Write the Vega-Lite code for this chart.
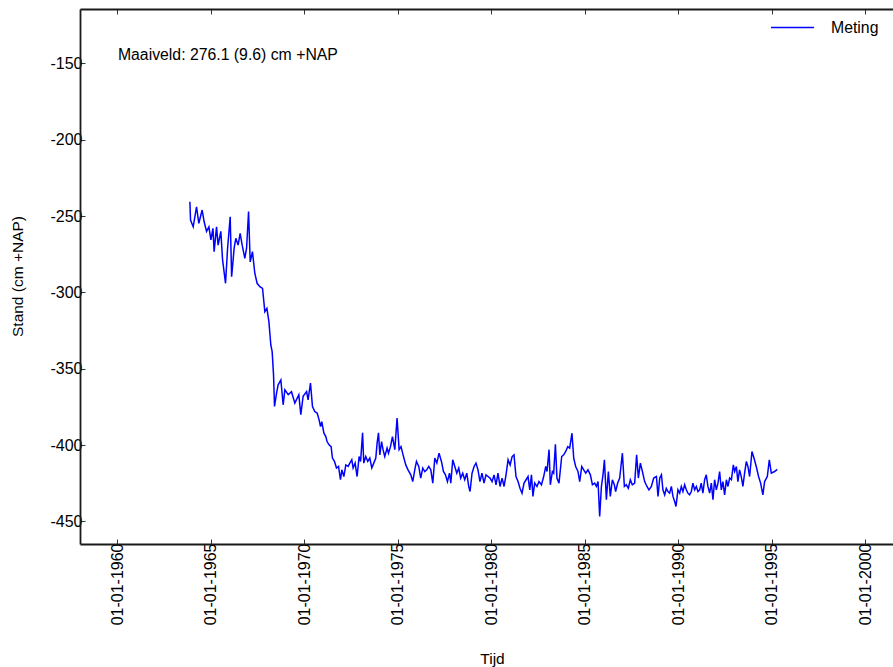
{
  "$schema": "https://vega.github.io/schema/vega-lite/v6.json",
  "width": 813,
  "height": 535,
  "autosize": {"type": "none"},
  "padding": {"left": 80, "top": 9, "right": 0, "bottom": 123},
  "background": "white",
  "config": {
    "view": {"stroke": null},
    "font": "Liberation Sans",
    "axis": {
      "grid": false,
      "domainColor": "#1a1a1a",
      "domainWidth": 1.8,
      "tickColor": "#333333",
      "tickWidth": 1,
      "labelColor": "#000000",
      "labelFont": "Liberation Sans",
      "labelFontSize": 16,
      "titleFont": "Liberation Sans",
      "titleFontSize": 15.5,
      "titleFontWeight": "normal",
      "titleColor": "#000000"
    }
  },
  "resolve": {"axis": {"x": "independent", "y": "independent"}},
  "layer": [
    {
      "data": {
        "values": [
          {"tijd": "1963-11-18", "stand": -240.6},
          {"tijd": "1963-12-01", "stand": -252.6},
          {"tijd": "1964-01-22", "stand": -257.0},
          {"tijd": "1964-03-27", "stand": -243.9},
          {"tijd": "1964-05-11", "stand": -254.7},
          {"tijd": "1964-07-15", "stand": -246.0},
          {"tijd": "1964-08-23", "stand": -253.7},
          {"tijd": "1964-10-09", "stand": -260.0},
          {"tijd": "1964-11-24", "stand": -257.0},
          {"tijd": "1965-01-02", "stand": -265.6},
          {"tijd": "1965-02-11", "stand": -258.0},
          {"tijd": "1965-03-06", "stand": -273.3},
          {"tijd": "1965-04-22", "stand": -257.0},
          {"tijd": "1965-05-23", "stand": -269.0},
          {"tijd": "1965-07-15", "stand": -260.0},
          {"tijd": "1965-08-18", "stand": -278.7},
          {"tijd": "1965-10-15", "stand": -294.0},
          {"tijd": "1965-11-24", "stand": -271.0},
          {"tijd": "1966-01-14", "stand": -250.4},
          {"tijd": "1966-02-11", "stand": -289.7},
          {"tijd": "1966-04-01", "stand": -271.0},
          {"tijd": "1966-05-04", "stand": -264.5},
          {"tijd": "1966-06-18", "stand": -269.0},
          {"tijd": "1966-07-27", "stand": -261.3},
          {"tijd": "1966-09-05", "stand": -269.0},
          {"tijd": "1966-10-27", "stand": -277.6},
          {"tijd": "1966-11-30", "stand": -271.0},
          {"tijd": "1967-01-08", "stand": -247.0},
          {"tijd": "1967-02-09", "stand": -280.0},
          {"tijd": "1967-03-25", "stand": -273.3},
          {"tijd": "1967-05-10", "stand": -287.4},
          {"tijd": "1967-06-24", "stand": -294.0},
          {"tijd": "1967-08-16", "stand": -296.2},
          {"tijd": "1967-10-08", "stand": -297.3},
          {"tijd": "1967-11-22", "stand": -312.6},
          {"tijd": "1968-01-01", "stand": -310.4},
          {"tijd": "1968-02-09", "stand": -319.0},
          {"tijd": "1968-03-18", "stand": -334.4},
          {"tijd": "1968-04-13", "stand": -338.8},
          {"tijd": "1968-05-10", "stand": -354.0},
          {"tijd": "1968-05-29", "stand": -374.7},
          {"tijd": "1968-07-08", "stand": -366.0},
          {"tijd": "1968-08-08", "stand": -360.5},
          {"tijd": "1968-09-30", "stand": -357.3},
          {"tijd": "1968-11-14", "stand": -373.6},
          {"tijd": "1968-12-17", "stand": -363.8},
          {"tijd": "1969-02-21", "stand": -367.0},
          {"tijd": "1969-04-26", "stand": -365.0},
          {"tijd": "1969-06-30", "stand": -372.5},
          {"tijd": "1969-09-16", "stand": -367.0},
          {"tijd": "1969-10-25", "stand": -380.0},
          {"tijd": "1969-12-09", "stand": -368.0},
          {"tijd": "1970-02-15", "stand": -365.0},
          {"tijd": "1970-03-16", "stand": -370.4},
          {"tijd": "1970-05-02", "stand": -359.4},
          {"tijd": "1970-06-10", "stand": -374.7},
          {"tijd": "1970-07-25", "stand": -378.0},
          {"tijd": "1970-09-09", "stand": -379.0},
          {"tijd": "1970-10-17", "stand": -383.5},
          {"tijd": "1970-11-14", "stand": -387.8},
          {"tijd": "1970-12-09", "stand": -384.6},
          {"tijd": "1971-01-18", "stand": -392.0},
          {"tijd": "1971-02-26", "stand": -394.4},
          {"tijd": "1971-03-22", "stand": -397.7},
          {"tijd": "1971-04-30", "stand": -399.8},
          {"tijd": "1971-06-09", "stand": -401.0},
          {"tijd": "1971-07-05", "stand": -408.5},
          {"tijd": "1971-08-14", "stand": -410.7},
          {"tijd": "1971-09-22", "stand": -415.0},
          {"tijd": "1971-11-01", "stand": -414.0},
          {"tijd": "1971-12-09", "stand": -422.7},
          {"tijd": "1972-01-05", "stand": -416.2},
          {"tijd": "1972-02-13", "stand": -420.6},
          {"tijd": "1972-03-22", "stand": -413.0},
          {"tijd": "1972-05-06", "stand": -414.0},
          {"tijd": "1972-06-09", "stand": -411.8},
          {"tijd": "1972-07-17", "stand": -409.6},
          {"tijd": "1972-08-12", "stand": -415.0},
          {"tijd": "1972-09-20", "stand": -411.8},
          {"tijd": "1972-10-29", "stand": -420.6},
          {"tijd": "1972-12-07", "stand": -407.5},
          {"tijd": "1973-01-05", "stand": -410.7},
          {"tijd": "1973-02-13", "stand": -392.0},
          {"tijd": "1973-03-08", "stand": -411.8},
          {"tijd": "1973-04-16", "stand": -407.5},
          {"tijd": "1973-05-25", "stand": -410.7},
          {"tijd": "1973-07-04", "stand": -408.5},
          {"tijd": "1973-08-12", "stand": -415.0},
          {"tijd": "1973-09-20", "stand": -411.8},
          {"tijd": "1973-10-29", "stand": -408.5},
          {"tijd": "1973-11-24", "stand": -398.7},
          {"tijd": "1973-12-21", "stand": -392.0},
          {"tijd": "1974-01-16", "stand": -406.4},
          {"tijd": "1974-02-19", "stand": -397.7},
          {"tijd": "1974-03-20", "stand": -403.0},
          {"tijd": "1974-04-22", "stand": -407.5},
          {"tijd": "1974-06-07", "stand": -402.0},
          {"tijd": "1974-07-04", "stand": -405.3},
          {"tijd": "1974-08-12", "stand": -401.0},
          {"tijd": "1974-09-20", "stand": -394.4},
          {"tijd": "1974-11-05", "stand": -403.0},
          {"tijd": "1974-12-19", "stand": -382.3},
          {"tijd": "1975-01-28", "stand": -403.0},
          {"tijd": "1975-03-06", "stand": -401.0},
          {"tijd": "1975-04-15", "stand": -406.4},
          {"tijd": "1975-06-07", "stand": -413.0},
          {"tijd": "1975-07-21", "stand": -416.2},
          {"tijd": "1975-09-13", "stand": -419.5},
          {"tijd": "1975-10-21", "stand": -423.9},
          {"tijd": "1975-11-30", "stand": -416.2},
          {"tijd": "1976-01-02", "stand": -410.7},
          {"tijd": "1976-02-16", "stand": -414.0},
          {"tijd": "1976-03-25", "stand": -421.6},
          {"tijd": "1976-05-04", "stand": -415.0},
          {"tijd": "1976-06-12", "stand": -417.3},
          {"tijd": "1976-07-21", "stand": -416.2},
          {"tijd": "1976-08-29", "stand": -414.0},
          {"tijd": "1976-10-08", "stand": -416.2},
          {"tijd": "1976-11-16", "stand": -424.9},
          {"tijd": "1976-12-25", "stand": -408.5},
          {"tijd": "1977-02-03", "stand": -411.8},
          {"tijd": "1977-03-18", "stand": -405.3},
          {"tijd": "1977-05-04", "stand": -410.7},
          {"tijd": "1977-06-12", "stand": -417.3},
          {"tijd": "1977-07-21", "stand": -419.5},
          {"tijd": "1977-08-29", "stand": -423.9},
          {"tijd": "1977-10-08", "stand": -418.4},
          {"tijd": "1977-11-03", "stand": -424.9},
          {"tijd": "1977-12-11", "stand": -409.6},
          {"tijd": "1978-01-20", "stand": -414.0},
          {"tijd": "1978-02-28", "stand": -418.4},
          {"tijd": "1978-04-07", "stand": -415.0},
          {"tijd": "1978-05-15", "stand": -421.6},
          {"tijd": "1978-06-24", "stand": -418.4},
          {"tijd": "1978-08-02", "stand": -422.7},
          {"tijd": "1978-09-11", "stand": -418.4},
          {"tijd": "1978-10-19", "stand": -427.1},
          {"tijd": "1978-11-14", "stand": -430.4},
          {"tijd": "1978-12-23", "stand": -418.4},
          {"tijd": "1979-02-01", "stand": -414.0},
          {"tijd": "1979-03-10", "stand": -411.8},
          {"tijd": "1979-04-18", "stand": -416.2},
          {"tijd": "1979-05-27", "stand": -423.9},
          {"tijd": "1979-07-05", "stand": -418.4},
          {"tijd": "1979-08-14", "stand": -424.9},
          {"tijd": "1979-09-22", "stand": -419.5},
          {"tijd": "1979-11-01", "stand": -420.6},
          {"tijd": "1979-12-09", "stand": -421.6},
          {"tijd": "1980-01-18", "stand": -423.9},
          {"tijd": "1980-02-26", "stand": -419.5},
          {"tijd": "1980-04-05", "stand": -426.0},
          {"tijd": "1980-05-13", "stand": -418.4},
          {"tijd": "1980-06-22", "stand": -427.1},
          {"tijd": "1980-08-01", "stand": -421.6},
          {"tijd": "1980-09-09", "stand": -427.1},
          {"tijd": "1980-10-17", "stand": -419.5},
          {"tijd": "1980-11-26", "stand": -409.6},
          {"tijd": "1981-01-05", "stand": -413.0},
          {"tijd": "1981-02-13", "stand": -407.5},
          {"tijd": "1981-03-22", "stand": -406.4},
          {"tijd": "1981-04-30", "stand": -420.6},
          {"tijd": "1981-06-09", "stand": -423.9},
          {"tijd": "1981-07-17", "stand": -428.3},
          {"tijd": "1981-08-26", "stand": -431.5},
          {"tijd": "1981-10-04", "stand": -424.9},
          {"tijd": "1981-11-13", "stand": -422.7},
          {"tijd": "1981-12-21", "stand": -420.6},
          {"tijd": "1982-01-24", "stand": -429.3},
          {"tijd": "1982-02-26", "stand": -419.5},
          {"tijd": "1982-03-27", "stand": -433.6},
          {"tijd": "1982-04-30", "stand": -424.9},
          {"tijd": "1982-06-14", "stand": -427.1},
          {"tijd": "1982-07-23", "stand": -423.9},
          {"tijd": "1982-09-09", "stand": -426.0},
          {"tijd": "1982-10-23", "stand": -420.6},
          {"tijd": "1982-12-02", "stand": -414.0},
          {"tijd": "1982-12-27", "stand": -417.3},
          {"tijd": "1983-02-05", "stand": -403.0},
          {"tijd": "1983-03-02", "stand": -426.0},
          {"tijd": "1983-04-11", "stand": -417.3},
          {"tijd": "1983-05-06", "stand": -418.4},
          {"tijd": "1983-06-09", "stand": -399.4},
          {"tijd": "1983-07-09", "stand": -421.6},
          {"tijd": "1983-08-18", "stand": -424.9},
          {"tijd": "1983-10-10", "stand": -407.5},
          {"tijd": "1983-11-18", "stand": -406.4},
          {"tijd": "1983-12-27", "stand": -404.2},
          {"tijd": "1984-02-05", "stand": -401.0},
          {"tijd": "1984-03-14", "stand": -402.0},
          {"tijd": "1984-04-28", "stand": -392.2},
          {"tijd": "1984-06-01", "stand": -408.5},
          {"tijd": "1984-07-09", "stand": -414.0},
          {"tijd": "1984-08-23", "stand": -417.3},
          {"tijd": "1984-09-26", "stand": -423.9},
          {"tijd": "1984-11-05", "stand": -414.0},
          {"tijd": "1984-12-13", "stand": -416.2},
          {"tijd": "1985-01-22", "stand": -418.4},
          {"tijd": "1985-03-06", "stand": -416.2},
          {"tijd": "1985-04-22", "stand": -419.5},
          {"tijd": "1985-06-01", "stand": -426.0},
          {"tijd": "1985-07-15", "stand": -424.9},
          {"tijd": "1985-08-18", "stand": -427.1},
          {"tijd": "1985-09-19", "stand": -423.9},
          {"tijd": "1985-10-21", "stand": -446.8},
          {"tijd": "1985-11-24", "stand": -427.1},
          {"tijd": "1985-12-25", "stand": -419.5},
          {"tijd": "1986-01-22", "stand": -409.6},
          {"tijd": "1986-03-01", "stand": -435.8},
          {"tijd": "1986-04-09", "stand": -417.3},
          {"tijd": "1986-05-17", "stand": -433.6},
          {"tijd": "1986-06-26", "stand": -422.7},
          {"tijd": "1986-08-04", "stand": -426.0},
          {"tijd": "1986-08-29", "stand": -430.4},
          {"tijd": "1986-10-08", "stand": -424.9},
          {"tijd": "1986-11-16", "stand": -421.6},
          {"tijd": "1987-01-08", "stand": -405.3},
          {"tijd": "1987-02-16", "stand": -427.1},
          {"tijd": "1987-03-25", "stand": -426.0},
          {"tijd": "1987-05-04", "stand": -428.3},
          {"tijd": "1987-06-12", "stand": -422.7},
          {"tijd": "1987-07-21", "stand": -426.0},
          {"tijd": "1987-09-05", "stand": -424.9},
          {"tijd": "1987-10-13", "stand": -406.4},
          {"tijd": "1987-11-16", "stand": -421.6},
          {"tijd": "1987-12-25", "stand": -411.8},
          {"tijd": "1988-02-03", "stand": -417.3},
          {"tijd": "1988-03-18", "stand": -423.9},
          {"tijd": "1988-05-02", "stand": -427.1},
          {"tijd": "1988-06-10", "stand": -429.3},
          {"tijd": "1988-07-27", "stand": -427.1},
          {"tijd": "1988-09-11", "stand": -421.6},
          {"tijd": "1988-11-03", "stand": -420.6},
          {"tijd": "1988-12-04", "stand": -433.6},
          {"tijd": "1989-01-07", "stand": -421.6},
          {"tijd": "1989-02-09", "stand": -419.5},
          {"tijd": "1989-03-10", "stand": -429.3},
          {"tijd": "1989-04-13", "stand": -432.6},
          {"tijd": "1989-05-15", "stand": -428.3},
          {"tijd": "1989-06-16", "stand": -430.4},
          {"tijd": "1989-07-19", "stand": -431.5},
          {"tijd": "1989-08-22", "stand": -427.1},
          {"tijd": "1989-09-22", "stand": -433.6},
          {"tijd": "1989-10-25", "stand": -436.9},
          {"tijd": "1989-11-20", "stand": -440.2},
          {"tijd": "1989-12-29", "stand": -429.3},
          {"tijd": "1990-02-01", "stand": -431.5},
          {"tijd": "1990-03-04", "stand": -427.1},
          {"tijd": "1990-04-05", "stand": -430.4},
          {"tijd": "1990-05-08", "stand": -426.0},
          {"tijd": "1990-06-10", "stand": -429.3},
          {"tijd": "1990-07-11", "stand": -431.5},
          {"tijd": "1990-08-14", "stand": -432.6},
          {"tijd": "1990-09-16", "stand": -430.4},
          {"tijd": "1990-10-17", "stand": -424.9},
          {"tijd": "1990-11-20", "stand": -429.3},
          {"tijd": "1990-12-23", "stand": -427.1},
          {"tijd": "1991-01-24", "stand": -430.4},
          {"tijd": "1991-02-26", "stand": -429.3},
          {"tijd": "1991-03-29", "stand": -424.9},
          {"tijd": "1991-04-30", "stand": -431.5},
          {"tijd": "1991-06-03", "stand": -422.7},
          {"tijd": "1991-07-05", "stand": -419.5},
          {"tijd": "1991-08-06", "stand": -427.1},
          {"tijd": "1991-09-09", "stand": -431.5},
          {"tijd": "1991-10-12", "stand": -424.9},
          {"tijd": "1991-11-13", "stand": -435.8},
          {"tijd": "1991-12-15", "stand": -422.7},
          {"tijd": "1992-01-18", "stand": -429.3},
          {"tijd": "1992-02-19", "stand": -424.9},
          {"tijd": "1992-03-22", "stand": -417.3},
          {"tijd": "1992-04-24", "stand": -429.3},
          {"tijd": "1992-05-25", "stand": -423.9},
          {"tijd": "1992-06-28", "stand": -432.6},
          {"tijd": "1992-08-01", "stand": -422.7},
          {"tijd": "1992-09-01", "stand": -427.1},
          {"tijd": "1992-10-04", "stand": -421.6},
          {"tijd": "1992-11-07", "stand": -422.7},
          {"tijd": "1992-12-15", "stand": -413.0},
          {"tijd": "1993-01-10", "stand": -417.3},
          {"tijd": "1993-02-13", "stand": -414.0},
          {"tijd": "1993-03-14", "stand": -423.9},
          {"tijd": "1993-04-16", "stand": -416.2},
          {"tijd": "1993-05-19", "stand": -420.6},
          {"tijd": "1993-06-20", "stand": -427.1},
          {"tijd": "1993-07-23", "stand": -418.4},
          {"tijd": "1993-08-26", "stand": -410.7},
          {"tijd": "1993-09-26", "stand": -414.0},
          {"tijd": "1993-10-29", "stand": -420.6},
          {"tijd": "1993-12-14", "stand": -404.2},
          {"tijd": "1994-01-22", "stand": -408.5},
          {"tijd": "1994-03-08", "stand": -414.0},
          {"tijd": "1994-04-22", "stand": -420.6},
          {"tijd": "1994-06-01", "stand": -424.9},
          {"tijd": "1994-07-15", "stand": -432.6},
          {"tijd": "1994-08-18", "stand": -423.9},
          {"tijd": "1994-10-10", "stand": -420.6},
          {"tijd": "1994-11-18", "stand": -409.6},
          {"tijd": "1994-12-27", "stand": -418.4},
          {"tijd": "1995-03-01", "stand": -417.3},
          {"tijd": "1995-04-22", "stand": -415.9}
        ]
      },
      "mark": {"type": "line", "strokeWidth": 1.5, "interpolate": "linear", "clip": true},
      "encoding": {
        "x": {
          "field": "tijd",
          "type": "temporal",
          "scale": {"domain": ["1958-01-01", "2001-07-01"]},
          "axis": {
            "orient": "bottom",
            "format": "%d-%m-%Y",
            "tickCount": {"interval": "year", "step": 5},
            "labelAngle": 270,
            "labelAlign": "right",
            "labelBaseline": "middle",
            "tickSize": -5,
            "labelPadding": 4,
            "labelFlush": false,
            "labelOverlap": false,
            "title": "Tijd",
            "titleX": 412,
            "titleY": 119,
            "titleBaseline": "alphabetic",
            "titleAlign": "center"
          }
        },
        "y": {
          "field": "stand",
          "type": "quantitative",
          "scale": {"domain": [-464.8, -114.3], "nice": false, "zero": false},
          "axis": {
            "orient": "left",
            "values": [-450, -400, -350, -300, -250, -200, -150],
            "labelExpr": "'' + datum.value",
            "tickSize": -5,
            "labelPadding": 3,
            "title": "Stand (cm +NAP)",
            "titleX": -58,
            "titleY": 267,
            "titleAngle": 270,
            "titleAlign": "center",
            "titleBaseline": "alphabetic"
          }
        },
        "color": {
          "datum": "Meting",
          "type": "nominal",
          "scale": {"domain": ["Meting"], "range": ["#0000ff"]},
          "legend": {
            "orient": "none",
            "legendX": 690,
            "legendY": -4,
            "title": null,
            "padding": 0,
            "symbolType": "stroke",
            "symbolSize": 1849,
            "symbolStrokeWidth": 1.3,
            "labelFontSize": 15.8,
            "labelColor": "#000000",
            "labelOffset": 16
          }
        }
      }
    },
    {
      "data": {"values": [{"tijd": "1960-01-12", "stand": -147.8, "tekst": "Maaiveld: 276.1 (9.6) cm +NAP"}]},
      "mark": {"type": "text", "align": "left", "baseline": "alphabetic", "fontSize": 15.8, "color": "#000000", "font": "Liberation Sans"},
      "encoding": {
        "x": {
          "field": "tijd",
          "type": "temporal",
          "axis": {
            "orient": "top",
            "values": [{"year": 1960}, {"year": 1965}, {"year": 1970}, {"year": 1975}, {"year": 1980}, {"year": 1985}, {"year": 1990}, {"year": 1995}, {"year": 2000}],
            "labels": false,
            "tickSize": -5,
            "title": null
          }
        },
        "y": {"field": "stand", "type": "quantitative", "axis": null},
        "text": {"field": "tekst"}
      }
    }
  ]
}
